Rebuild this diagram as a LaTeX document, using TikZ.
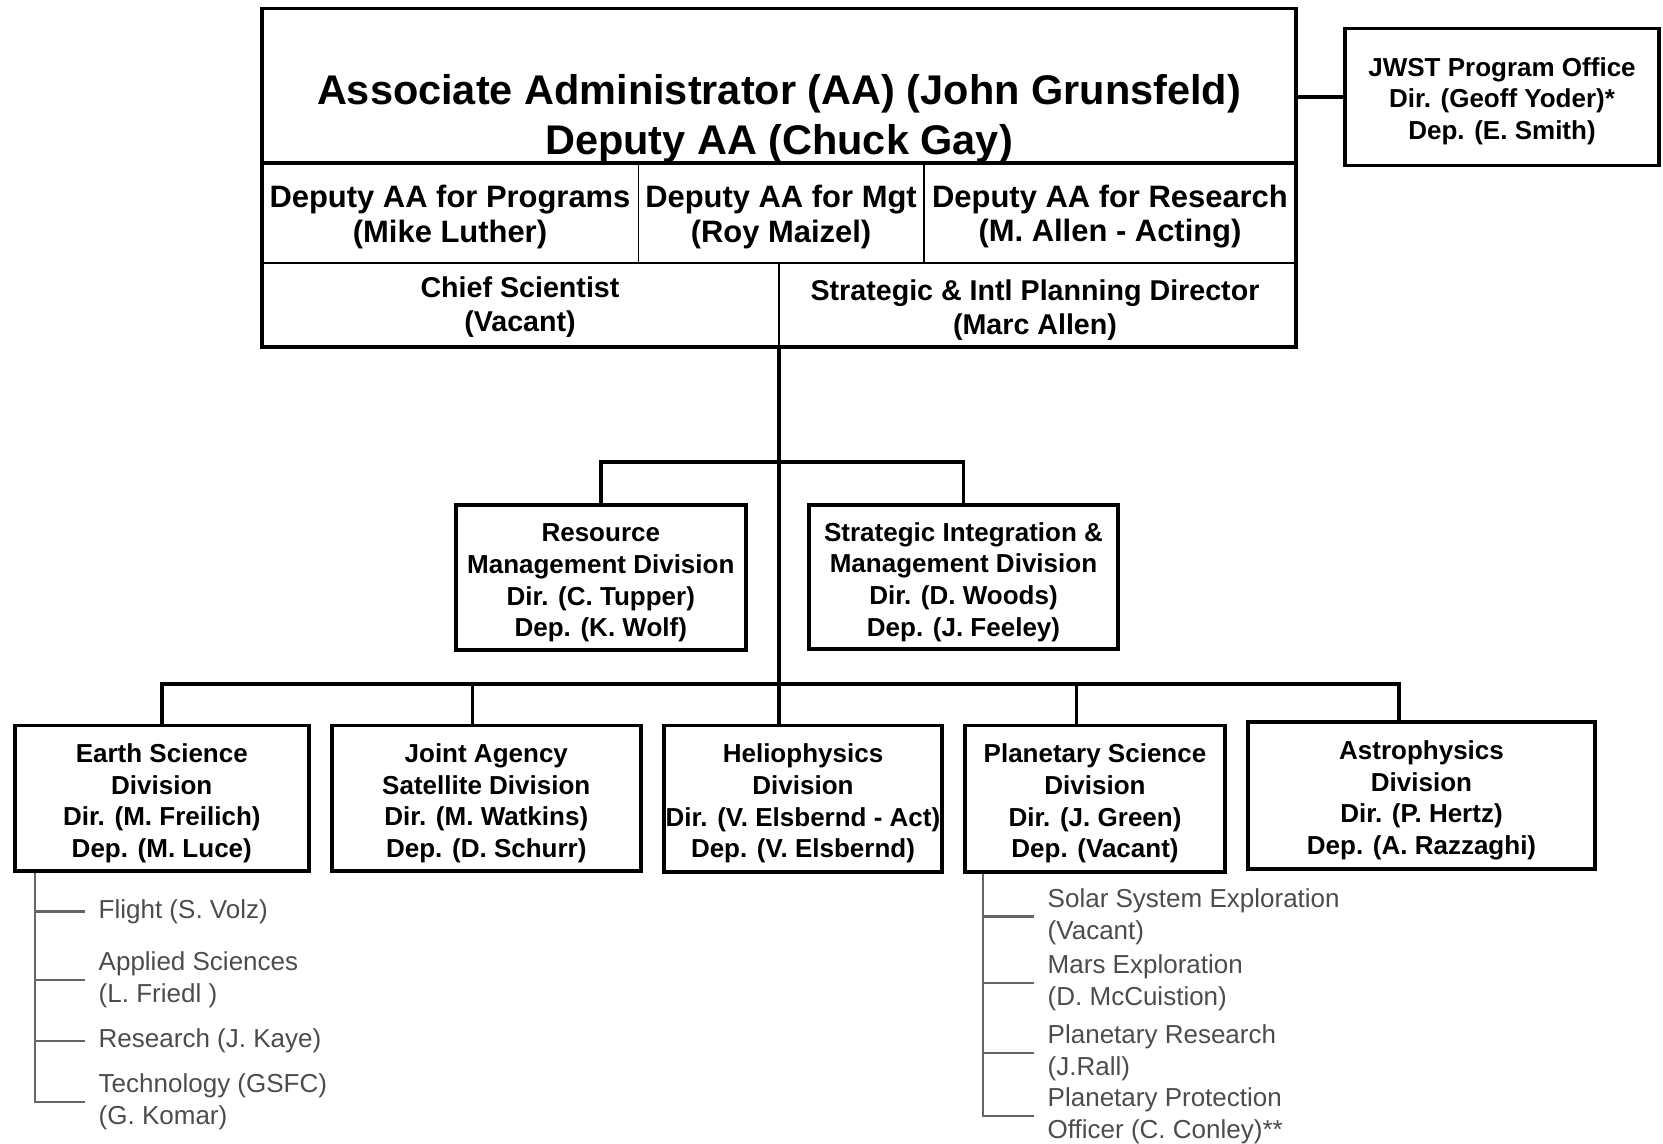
\documentclass[tikz,border=0pt]{standalone}
\usepackage{fontspec}
\setmainfont{Liberation Sans}
\usetikzlibrary{positioning,calc}

\begin{document}
\begin{tikzpicture}[
  frame/.style={rectangle, draw, line width=1.1pt, inner sep=0pt},
  division/.style={frame, align=center, text height=35.2pt,
                   font=\fontsize{7.4}{9}\selectfont\bfseries},
  cell/.style={inner sep=0pt, align=center},
  link/.style={line width=1pt},
  divider/.style={line width=0.5pt},
  branch/.style={line width=0.6pt, draw=black!60},
  office/.style={anchor=west, inner sep=0.13cm, align=left, text=black!70,
                 font=\fontsize{7.4}{9}\selectfont}
]
\useasboundingbox (0,0) rectangle (16.63,-11.43);

% Headquarters block
\node[frame, minimum width=10.34cm, minimum height=3.385cm] (hq) at (7.79,-1.778) {};
\draw[line width=1.1pt] (hq.west |- 0,-1.63) -- (hq.east |- 0,-1.63);
\draw[line width=0.7pt] (hq.west |- 0,-2.63) -- (hq.east |- 0,-2.63);
\draw[divider] (6.385,-1.63) -- (6.385,-2.63);
\draw[divider] (9.24,-1.63) -- (9.24,-2.63);
\draw[divider] (hq.south) -- (hq.south |- 0,-2.63);

\node[cell, font=\fontsize{11.8}{14.2}\selectfont\bfseries] (aa) at (7.79,-1.185)
  {Associate Administrator (AA) (John Grunsfeld)\\Deputy AA (Chuck Gay)};
\node[cell, font=\fontsize{8.8}{9.7}\selectfont\bfseries] (dprog) at (4.50,-2.17)
  {Deputy AA for Programs\\(Mike Luther)};
\node[cell, font=\fontsize{8.8}{9.7}\selectfont\bfseries] (dmgt) at (7.81,-2.17)
  {Deputy AA for Mgt\\(Roy Maizel)};
\node[cell, font=\fontsize{8.8}{9.7}\selectfont\bfseries] (dres) at (11.10,-2.17)
  {Deputy AA for Research\\(M. Allen - Acting)};
\node[cell, font=\fontsize{8.15}{9.7}\selectfont\bfseries] (chief) at (5.20,-3.07)
  {Chief Scientist\\(Vacant)};
\node[cell, font=\fontsize{8.15}{9.7}\selectfont\bfseries] (strat) at (10.35,-3.10)
  {Strategic \& Intl Planning Director\\(Marc Allen)};

% JWST office
\node[division, text height=25.6pt, minimum width=3.14cm, minimum height=1.37cm] (jwst) at (15.02,-0.97)
  {JWST Program Office\\Dir. (Geoff Yoder)*\\Dep. (E. Smith)};
\draw[link] (hq.east |- jwst.west) -- (jwst.west);

% Staff divisions
\node[division, minimum width=2.896cm, minimum height=1.45cm] (rmd) at (6.008,-5.775)
  {Resource\\Management Division\\Dir. (C. Tupper)\\Dep. (K. Wolf)};
\node[division, minimum width=3.09cm, minimum height=1.44cm] (smd) at (9.635,-5.77)
  {Strategic Integration \&\\Management Division\\Dir. (D. Woods)\\Dep. (J. Feeley)};

% Science divisions
\node[division, minimum width=2.936cm, minimum height=1.455cm] (esd) at (1.618,-7.982)
  {Earth Science\\Division\\Dir. (M. Freilich)\\Dep. (M. Luce)};
\node[division, minimum width=3.086cm, minimum height=1.455cm] (jasd) at (4.863,-7.982)
  {Joint Agency\\Satellite Division\\Dir. (M. Watkins)\\Dep. (D. Schurr)};
\node[division, minimum width=2.78cm, minimum height=1.465cm] (hsd) at (8.03,-7.987)
  {Heliophysics\\Division\\Dir. (V. Elsbernd - Act)\\Dep. (V. Elsbernd)};
\node[division, minimum width=2.6cm, minimum height=1.465cm] (psd) at (10.95,-7.987)
  {Planetary Science\\Division\\Dir. (J. Green)\\Dep. (Vacant)};
\node[division, minimum width=3.47cm, minimum height=1.466cm] (asd) at (14.215,-7.953)
  {Astrophysics\\Division\\Dir. (P. Hertz)\\Dep. (A. Razzaghi)};

% Connectors
\coordinate (upper) at (hq.south |- 0,-4.62);
\coordinate (lower) at (hq.south |- 0,-6.84);
\draw[link] (hq.south) -- (lower);
\draw[link] (rmd.north) |- (upper) -| (smd.north);
\draw[link] (esd.north) |- (lower) -| ([xshift=-0.225cm]asd.north);
\draw[link] ([xshift=-0.14cm]jasd.north) |- (lower);
\draw[link] (lower) -- (lower |- hsd.north);
\draw[link] ([xshift=-0.185cm]psd.north) |- (lower);

% Earth Science offices
\coordinate (estem) at ([xshift=0.22cm]esd.south west);
\node[office] (flight) at (0.85,-9.115) {Flight (S. Volz)};
\node[office] (applied) at (0.85,-9.80) {Applied Sciences\\(L. Friedl )};
\node[office] (research) at (0.85,-10.41) {Research (J. Kaye)};
\node[office] (techno) at (0.85,-11.02) {Technology (GSFC)\\(G. Komar)};
\draw[branch] (estem) |- (flight.west);
\draw[branch] (estem) |- (applied.west);
\draw[branch] (estem) |- (research.west);
\draw[branch] (estem) |- (techno.west);

% Planetary Science offices
\coordinate (pstem) at ([xshift=0.203cm]psd.south west);
\node[office] (solar) at (10.34,-9.165) {Solar System Exploration\\(Vacant)};
\node[office] (mars) at (10.34,-9.83) {Mars Exploration\\(D. McCuistion)};
\node[office] (pres) at (10.34,-10.53) {Planetary Research\\(J.Rall)};
\node[office] (pprot) at (10.34,-11.16) {Planetary Protection\\Officer (C. Conley)**};
\draw[branch] (pstem) |- (solar.west);
\draw[branch] (pstem) |- (mars.west);
\draw[branch] (pstem) |- (pres.west);
\draw[branch] (pstem) |- (pprot.west);
\end{tikzpicture}
\end{document}
